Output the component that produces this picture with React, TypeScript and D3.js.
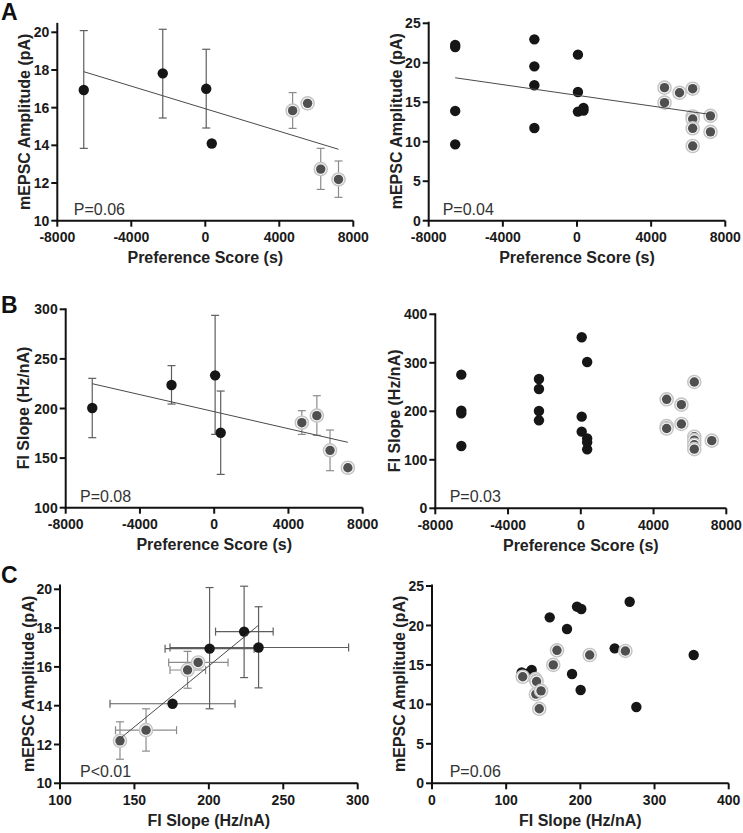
import React from "react";
import * as d3 from "d3";

const FONT = "'Liberation Sans', Arial, Helvetica, sans-serif";

// ---------- Animal-level data (mean with SEM error bars) ----------
const animalScore = [-6570, -2300, 50, 350, 4720, 5530, 6240, 7200];
const animalGroup = [0, 0, 0, 0, 1, 1, 1, 1]; // 0 = black, 1 = gray ringed
const ampMean = [16.94, 17.82, 17.0, 14.1, 15.84, 16.23, 12.74, 12.19];
const ampHi: (number | null)[] = [20.09, 20.16, 19.1, null, 16.8, null, 13.84, 13.17];
const ampLo: (number | null)[] = [13.84, 15.45, 14.92, null, 14.9, null, 11.66, 11.24];
const fiMean = [200.5, 223.7, 233.4, 175.6, 185.7, 192.8, 157.8, 140.3];
const fiHi: (number | null)[] = [230.4, 243.2, 293.9, 217.6, 197.8, 212.9, 178.3, null];
const fiLo: (number | null)[] = [170.6, 204.5, 173.9, 133.6, 173.9, 173.0, 137.3, null];

// ---------- Cell-level data ----------
const cellScoreAmp = [-6570, -6570, -6570, -6570, -2300, -2300, -2300, -2300, 50, 50, 50, 350, 350,
  4720, 4720, 5530, 6240, 6240, 6240, 6240, 6240, 7200, 7200];
const cellAmp = [22.25, 22.0, 13.9, 9.67, 22.97, 19.55, 17.15, 11.74, 21.03, 16.3, 13.82, 14.28, 13.95,
  16.85, 14.95, 16.2, 16.72, 13.2, 12.88, 11.7, 9.46, 13.28, 11.25];
const cellGroupAmp = [0, 0, 0, 0, 0, 0, 0, 0, 0, 0, 0, 0, 0, 1, 1, 1, 1, 1, 1, 1, 1, 1, 1];

const cellScoreFi = [-6570, -6570, -6570, -6570, -2300, -2300, -2300, -2300, 50, 50, 50, 350, 350, 350, 350,
  4720, 4720, 4720, 5530, 5530, 6240, 6240, 6240, 6240, 6240, 7200];
const cellFi = [275.6, 201.4, 195.9, 128.5, 266.7, 246.0, 200.7, 181.4, 352.6, 189.0, 158.0, 301.7, 144.0, 136.0, 121.6,
  224.7, 169.5, 164.5, 213.7, 173.9, 260.5, 147.5, 140.5, 131.0, 122.0, 139.5];
const cellGroupFi = [0, 0, 0, 0, 0, 0, 0, 0, 0, 0, 0, 0, 0, 0, 0, 1, 1, 1, 1, 1, 1, 1, 1, 1, 1, 1];

const pairFi = [120.9, 128.0, 134.4, 158.7, 182.0, 188.8, 195.5, 201.3, 200.4, 246.3, 266.5, 275.5, 352.8,
  122.3, 139.5, 141.0, 140.0, 147.0, 144.6, 163.5, 168.5, 212.6, 260.7];
const pairAmp = [14.06, 13.9, 14.36, 21.03, 19.55, 13.85, 22.38, 22.09, 11.82, 17.1, 23.0, 9.67, 16.26,
  13.5, 13.2, 12.9, 11.3, 11.71, 9.44, 15.0, 16.85, 16.26, 16.77];
const pairGroup = [0, 0, 0, 0, 0, 0, 0, 0, 0, 0, 0, 0, 0, 1, 1, 1, 1, 1, 1, 1, 1, 1, 1];

// ---------- Fit lines [x0, y0, x1, y1] in data units ----------
const fitA = [-6570, 17.91, 7200, 13.79];
const fitARight = [-6570, 18.1, 7200, 13.45];
const fitB = [-6570, 225.0, 7200, 165.9];
const fitC = [140.3, 12.3, 233.4, 18.15];

// ---------- Ticks / labels ----------
const scoreTicks = [-8000, -4000, 0, 4000, 8000];
const ampTicksMean = [10, 12, 14, 16, 18, 20];
const ampTicksCell = [0, 5, 10, 15, 20, 25];
const fiTicksMean = [100, 150, 200, 250, 300];
const fiTicksCell = [0, 100, 200, 300, 400];
const fiXTicksMean = [100, 150, 200, 250, 300];
const fiXTicksCell = [0, 100, 200, 300, 400];
const pLabels = ["P=0.06", "P=0.04", "P=0.08", "P=0.03", "P<0.01", "P=0.06"];
const panelLetters = ["A", "B", "C"];
const xTitleScore = "Preference Score (s)";
const xTitleFi = "FI Slope (Hz/nA)";
const yTitleAmp = "mEPSC Amplitude (pA)";
const yTitleFi = "FI Slope (Hz/nA)";

type Pt = { x: number; y: number; g: number; xl?: number | null; xh?: number | null; yl?: number | null; yh?: number | null };

type PanelProps = {
  xr: [number, number];
  xd: [number, number];
  yr: [number, number];
  yd: [number, number];
  axisTop: number;
  xTicks: number[];
  yTicks: number[];
  xTitle: string;
  yTitle: string;
  yTitleX: number;
  p: string;
  pdx: number;
  pts: Pt[];
  fit?: number[];
};

const BLACK = "#161616";
const GRAYDOT = "#4f4f4f";
const RING = "#c4c4c4";

function Panel(props: PanelProps) {
  const { xr, xd, yr, yd, axisTop, xTicks, yTicks, xTitle, yTitle, yTitleX, p, pdx, pts, fit } = props;
  const x = d3.scaleLinear().domain(xd).range(xr);
  const y = d3.scaleLinear().domain(yd).range(yr);
  const x0 = xr[0];
  const yBase = yr[0];
  const yTopPx = y(axisTop);
  const line = d3.line<[number, number]>().x((d) => x(d[0])).y((d) => y(d[1]));
  const cap = 4;
  const ordered = [...pts.filter((d) => d.g === 0), ...pts.filter((d) => d.g === 1)];
  return (
    <g>
      {/* error bars */}
      {ordered.map((d, i) => {
        const col = d.g === 0 ? "#5e5e5e" : "#8c8c8c";
        const els: any[] = [];
        if (d.yl != null && d.yh != null) {
          els.push(<line key="v" x1={x(d.x)} x2={x(d.x)} y1={y(d.yl)} y2={y(d.yh)} stroke={col} strokeWidth={1.2} />);
          els.push(<line key="vt" x1={x(d.x) - cap} x2={x(d.x) + cap} y1={y(d.yh)} y2={y(d.yh)} stroke={col} strokeWidth={1.2} />);
          els.push(<line key="vb" x1={x(d.x) - cap} x2={x(d.x) + cap} y1={y(d.yl)} y2={y(d.yl)} stroke={col} strokeWidth={1.2} />);
        }
        if (d.xl != null && d.xh != null) {
          els.push(<line key="h" x1={x(d.xl)} x2={x(d.xh)} y1={y(d.y)} y2={y(d.y)} stroke={col} strokeWidth={1.2} />);
          els.push(<line key="hl" x1={x(d.xl)} x2={x(d.xl)} y1={y(d.y) - cap} y2={y(d.y) + cap} stroke={col} strokeWidth={1.2} />);
          els.push(<line key="hr" x1={x(d.xh)} x2={x(d.xh)} y1={y(d.y) - cap} y2={y(d.y) + cap} stroke={col} strokeWidth={1.2} />);
        }
        return <g key={"e" + i}>{els}</g>;
      })}
      {/* points */}
      {ordered.map((d, i) =>
        d.g === 0 ? (
          <circle key={"p" + i} cx={x(d.x)} cy={y(d.y)} r={5.2} fill={BLACK} />
        ) : (
          <g key={"p" + i}>
            <circle cx={x(d.x)} cy={y(d.y)} r={6.6} fill="#f4f4f4" stroke={RING} strokeWidth={1.4} />
            <circle cx={x(d.x)} cy={y(d.y)} r={4.7} fill={GRAYDOT} />
          </g>
        )
      )}
      {fit && (
        <path
          d={line([[fit[0], fit[1]], [fit[2], fit[3]]]) || ""}
          stroke="#4a4a4a"
          strokeWidth={1}
          fill="none"
        />
      )}
      {/* axes */}
      <line x1={x0} x2={x0} y1={yTopPx} y2={yBase + 1} stroke="#111" strokeWidth={2} />
      <line x1={x0 - 1} x2={xr[1]} y1={yBase} y2={yBase} stroke="#111" strokeWidth={2} />
      {yTicks.map((t) => (
        <g key={"yt" + t}>
          <line x1={x0 - 6} x2={x0} y1={y(t)} y2={y(t)} stroke="#111" strokeWidth={2} />
          <text x={x0 - 8} y={y(t)} dy="0.36em" textAnchor="end" fontFamily={FONT} fontWeight="bold" fontSize={14} fill="#1a1a1a">
            {t}
          </text>
        </g>
      ))}
      {xTicks.map((t) => (
        <g key={"xt" + t}>
          <line x1={x(t)} x2={x(t)} y1={yBase} y2={yBase + 6} stroke="#111" strokeWidth={2} />
          <text x={x(t)} y={yBase + 21.5} textAnchor="middle" fontFamily={FONT} fontWeight="bold" fontSize={14} fill="#1a1a1a">
            {t}
          </text>
        </g>
      ))}
      <text x={(xr[0] + xr[1]) / 2} y={yBase + 42.5} textAnchor="middle" fontFamily={FONT} fontWeight="bold" fontSize={16} fill="#222">
        {xTitle}
      </text>
      <text
        transform={`translate(${yTitleX},${(yr[0] + yTopPx) / 2}) rotate(-90)`}
        textAnchor="middle"
        fontFamily={FONT}
        fontWeight="bold"
        fontSize={16}
        fill="#222"
      >
        {yTitle}
      </text>
      <text x={x0 + pdx} y={yBase - 6} fontFamily={FONT} fontSize={16} fill="#333">
        {p}
      </text>
    </g>
  );
}

export default function App() {
  const meanAmpByScore: Pt[] = animalScore.map((s, i) => ({ x: s, y: ampMean[i], g: animalGroup[i], yl: ampLo[i], yh: ampHi[i] }));
  const meanFiByScore: Pt[] = animalScore.map((s, i) => ({ x: s, y: fiMean[i], g: animalGroup[i], yl: fiLo[i], yh: fiHi[i] }));
  const meanAmpByFi: Pt[] = animalScore.map((_, i) => ({
    x: fiMean[i], y: ampMean[i], g: animalGroup[i], yl: ampLo[i], yh: ampHi[i], xl: fiLo[i], xh: fiHi[i],
  }));
  const cellAmpPts: Pt[] = cellScoreAmp.map((s, i) => ({ x: s, y: cellAmp[i], g: cellGroupAmp[i] }));
  const cellFiPts: Pt[] = cellScoreFi.map((s, i) => ({ x: s, y: cellFi[i], g: cellGroupFi[i] }));
  const pairPts: Pt[] = pairFi.map((f, i) => ({ x: f, y: pairAmp[i], g: pairGroup[i] }));

  return (
    <div style={{ position: "absolute", left: 0, top: 0 }}>
      <svg width={743} height={833} style={{ display: "block", background: "#fff" }}>
        <rect width={743} height={833} fill="#fff" />
        <text x={1} y={20} fontFamily={FONT} fontWeight="bold" fontSize={23} fill="#111">{panelLetters[0]}</text>
        <text x={1} y={313} fontFamily={FONT} fontWeight="bold" fontSize={23} fill="#111">{panelLetters[1]}</text>
        <text x={1} y={583} fontFamily={FONT} fontWeight="bold" fontSize={23} fill="#111">{panelLetters[2]}</text>

        <Panel xr={[57.3, 353.3]} xd={[-8000, 8000]} yr={[220.7, 32.3]} yd={[10, 20]} axisTop={20.5}
          xTicks={scoreTicks} yTicks={ampTicksMean} xTitle={xTitleScore} yTitle={yTitleAmp} yTitleX={30}
          p={pLabels[0]} pdx={16.5} pts={meanAmpByScore} fit={fitA} />
        <Panel xr={[428.7, 725.3]} xd={[-8000, 8000]} yr={[220.7, 23.3]} yd={[0, 25]} axisTop={25.2}
          xTicks={scoreTicks} yTicks={ampTicksCell} xTitle={xTitleScore} yTitle={yTitleAmp} yTitleX={402}
          p={pLabels[1]} pdx={14} pts={cellAmpPts} fit={fitARight} />
        <Panel xr={[65.7, 362.7]} xd={[-8000, 8000]} yr={[507.7, 309.3]} yd={[100, 300]} axisTop={301}
          xTicks={scoreTicks} yTicks={fiTicksMean} xTitle={xTitleScore} yTitle={yTitleFi} yTitleX={29}
          p={pLabels[2]} pdx={14.3} pts={meanFiByScore} fit={fitB} />
        <Panel xr={[435.3, 726.3]} xd={[-8000, 8000]} yr={[508.3, 314.3]} yd={[0, 400]} axisTop={402}
          xTicks={scoreTicks} yTicks={fiTicksCell} xTitle={xTitleScore} yTitle={yTitleFi} yTitleX={400}
          p={pLabels[3]} pdx={14.4} pts={cellFiPts} />
        <Panel xr={[60, 357.7]} xd={[100, 300]} yr={[783.3, 589.3]} yd={[10, 20]} axisTop={20.25}
          xTicks={fiXTicksMean} yTicks={ampTicksMean} xTitle={xTitleFi} yTitle={yTitleAmp} yTitleX={34}
          p={pLabels[4]} pdx={20} pts={meanAmpByFi} fit={fitC} />
        <Panel xr={[432, 728.7]} xd={[0, 400]} yr={[783.3, 586]} yd={[0, 25]} axisTop={25.2}
          xTicks={fiXTicksCell} yTicks={ampTicksCell} xTitle={xTitleFi} yTitle={yTitleAmp} yTitleX={405}
          p={pLabels[5]} pdx={17.7} pts={pairPts} />
      </svg>
    </div>
  );
}
